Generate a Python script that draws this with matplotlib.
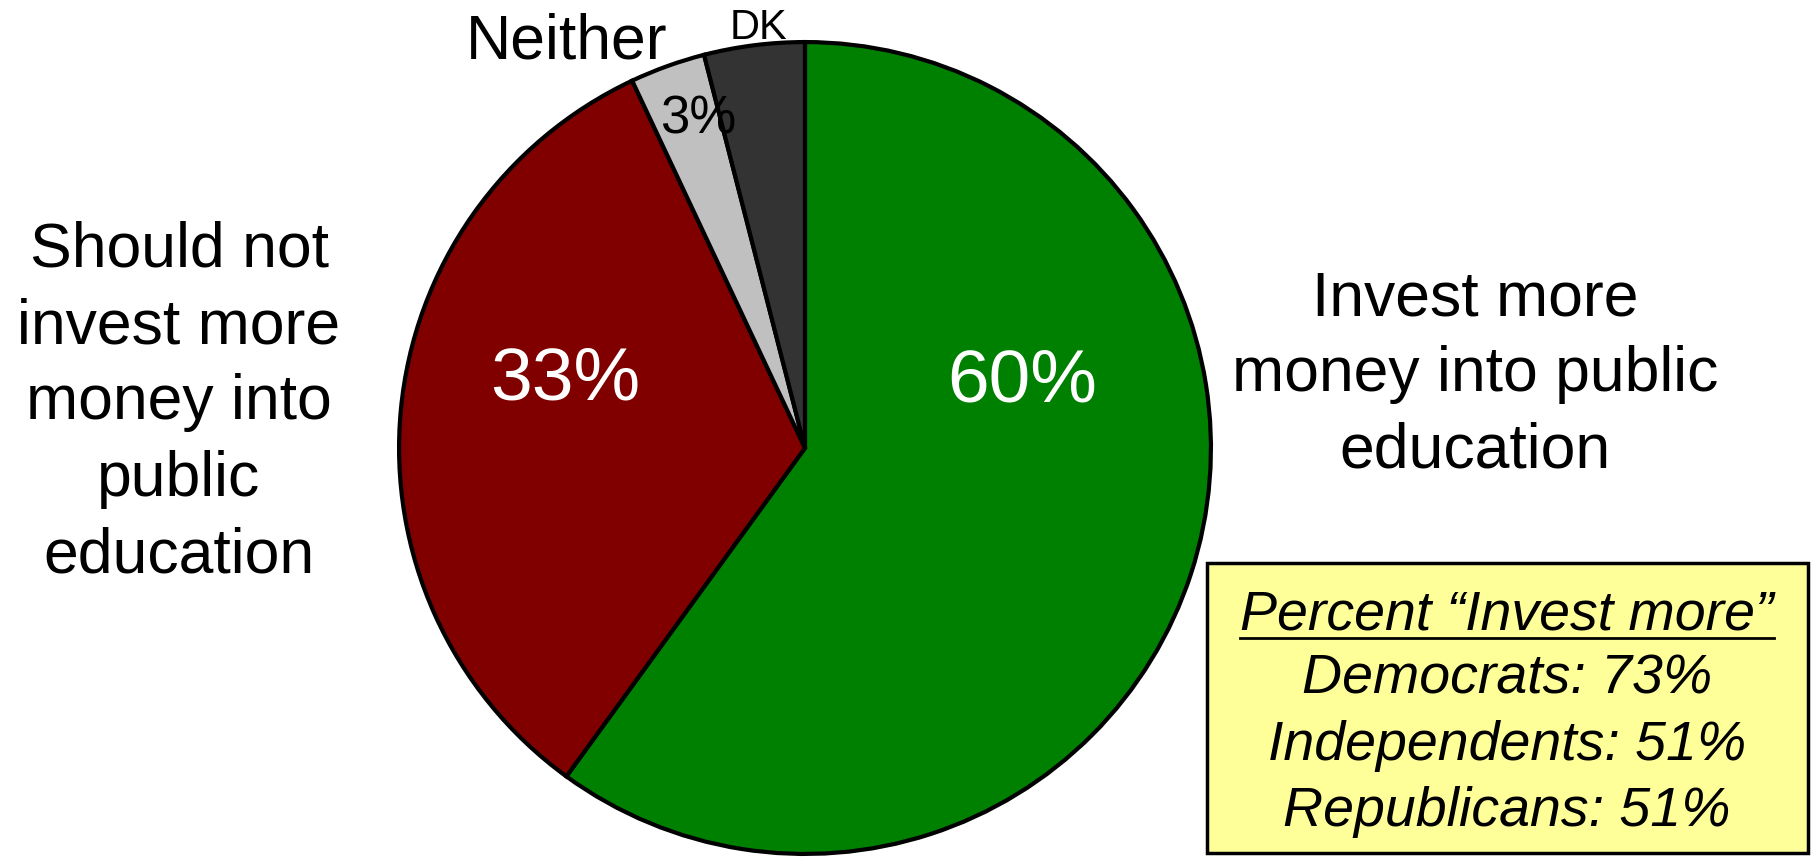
import matplotlib
matplotlib.use("Agg")
import matplotlib.pyplot as plt

plt.rcParams['font.family'] = ['Liberation Sans', 'DejaVu Sans']

# Pie data (clockwise from 12 o'clock)
categories = ['Invest more', 'Should not invest more', 'Neither', 'DK']
values = [60, 33, 3, 4]
colors = ['#008000', '#800000', '#c0c0c0', '#333333']

# Party breakdown box
parties = ['Democrats', 'Independents', 'Republicans']
party_values = [73, 51, 51]

W, H = 1814, 864
fig = plt.figure(figsize=(W / 100, H / 100), dpi=100)


def fx(x):
    return x / W


def fy(y):
    return 1 - y / H


# pie centre (805, 448) px, radius 410 px
cx, cy, r = 805, 448, 410
ax = fig.add_axes([fx(cx - r), fy(cy + r), 2 * r / W, 2 * r / H])
ax.pie(values, colors=colors, startangle=90, counterclock=False,
       wedgeprops=dict(edgecolor='black', linewidth=3.0))
ax.set_xlim(-1.01, 1.01)
ax.set_ylim(-1.01, 1.01)
ax.set_aspect('auto')
ax.axis('off')

big = 45
fig.text(fx(1022), fy(382), f"{values[0]}%", color='white', fontsize=54,
         ha='center', va='center')
fig.text(fx(565), fy(380), f"{values[1]}%", color='white', fontsize=54,
         ha='center', va='center')
fig.text(fx(698), fy(120), f"{values[2]}%", color='black', fontsize=38,
         ha='center', va='center')

fig.text(fx(567), fy(42), "Neither", fontsize=big, ha='center', va='center')
fig.text(fx(758), fy(28), "DK", fontsize=30, ha='center', va='center')

fig.text(fx(179), fy(403), "Should not\ninvest more\nmoney into\npublic\neducation",
         fontsize=big, ha='center', va='center', linespacing=1.38)
fig.text(fx(1475), fy(375), "Invest more\nmoney into public\neducation",
         fontsize=big, ha='center', va='center', linespacing=1.38)

# yellow box
box = plt.Rectangle((fx(1207), fy(853)), fx(1808) - fx(1207), fy(563) - fy(853),
                    transform=fig.transFigure, facecolor='#ffff99',
                    edgecolor='black', linewidth=2.5)
fig.patches.append(box)

bx = fx(1507)
title = fig.text(bx, fy(615), "Percent \u201cInvest more\u201d", fontsize=40,
                 style='italic', ha='center', va='center')
for i, (p, v) in enumerate(zip(parties, party_values)):
    fig.text(bx, fy(680 + i * 66), f"{p}: {v}%", fontsize=40, style='italic',
             ha='center', va='center')

# underline the box title
fig.canvas.draw()
bb = title.get_window_extent().transformed(fig.transFigure.inverted())
fig.add_artist(plt.Line2D([bb.x0, bb.x1], [bb.y0 + 0.004, bb.y0 + 0.004],
                          transform=fig.transFigure, color='black', linewidth=2))

fig.savefig("out.png", dpi=100)
